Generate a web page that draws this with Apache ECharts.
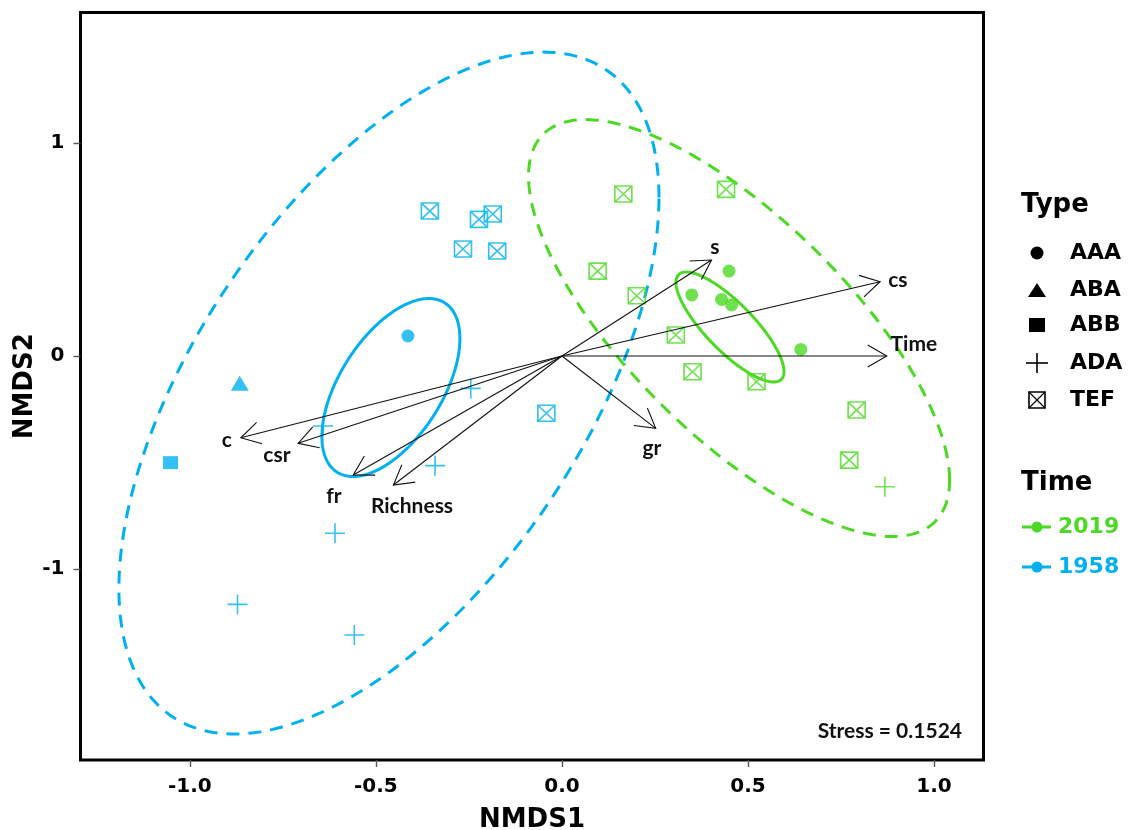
<!DOCTYPE html>
<html>
<head>
<meta charset="utf-8">
<script src="https://cdn.jsdelivr.net/npm/echarts@6/dist/echarts.min.js"></script>
<style>
  html, body { margin: 0; padding: 0; background: #ffffff; }
  #chart { width: 1139px; height: 830px; }
</style>
</head>
<body>
<div id="chart"></div>
<script>
// NMDS site scores, one list per survey year and vegetation type
const aaa2019 = [[0.449, 0.399], [0.349, 0.287], [0.429, 0.266], [0.456, 0.240], [0.642, 0.031]];
const tef2019 = [[0.165, 0.761], [0.441, 0.783], [0.096, 0.399], [0.201, 0.283], [0.306, 0.099],
                 [0.351, -0.074], [0.523, -0.121], [0.792, -0.254], [0.772, -0.489]];
const ada2019 = [[0.868, -0.614]];
const aaa1958 = [[-0.414, 0.094]];
const aba1958 = [[-0.866, -0.128]];
const abb1958 = [[-1.052, -0.501]];
const ada1958 = [[-0.245, -0.152], [-0.642, -0.329], [-0.341, -0.515], [-0.610, -0.833],
                 [-0.872, -1.167], [-0.558, -1.311]];
const tef1958 = [[-0.355, 0.681], [-0.223, 0.642], [-0.186, 0.667], [-0.266, 0.503],
                 [-0.174, 0.493], [-0.042, -0.269]];

// fitted environmental vectors: arrow tips and label anchors (NMDS units)
const vectorNames = ['s', 'cs', 'Time', 'gr', 'c', 'csr', 'fr', 'Richness'];
const vectorTips = [[0.402, 0.451], [0.855, 0.349], [0.873, 0.000], [0.252, -0.340],
                    [-0.863, -0.384], [-0.709, -0.410], [-0.561, -0.559], [-0.453, -0.606]];
const vectorLabelAt = [[0.411, 0.513], [0.903, 0.357], [0.946, 0.056], [0.242, -0.432],
                       [-0.901, -0.395], [-0.766, -0.465], [-0.613, -0.658], [-0.403, -0.705]];

// group ellipses: [centre x, centre y, sxx, sxy, syy]
const spread2019 = [0.476, 0.1315, 0.3202, -0.4041, 0.9595];
const spread1958 = [-0.465, -0.174, 0.5268, 0.6668, 2.5666];
const centroid2019 = [0.4516, 0.1362, 0.02107, -0.03031, 0.06677];
const centroid1958 = [-0.4597, -0.148, 0.0344, 0.04261, 0.17484];

const typeNames = ['AAA', 'ABA', 'ABB', 'ADA', 'TEF'];
const timeNames = ['2019', '1958'];
const xTicks = [-1.0, -0.5, 0.0, 0.5, 1.0];
const yTicks = [-1, 0, 1];
const stressValue = 0.1524;

const GREEN = '#4cd924';
const BLUE = '#00b0f0';
const INK = '#111111';
const SANS_BOLD = 'DejaVu Sans';
const NOTE_FONT = 'Lato';

const PLUS_PATH = 'path://M10,0V20M0,10H20';
const BOXX_PATH = 'path://M0,0H20V20H0ZM0,0L20,20M20,0L0,20';

function siteSeries(name, data, symbol, size, color, outlined) {
  return {
    name: name,
    type: 'scatter',
    data: data,
    symbol: symbol,
    symbolSize: size,
    silent: true,
    z: 3,
    itemStyle: outlined
      ? { color: 'transparent', borderColor: color, borderWidth: 1.6 }
      : { color: color },
  };
}

// outline of an ellipse from centre + shape matrix, projected through the axes
function ellipseSeries(name, params, color, dash, width) {
  return {
    name: name,
    type: 'custom',
    data: [params],
    silent: true,
    z: 2,
    renderItem: function (p, api) {
      const cx = api.value(0), cy = api.value(1);
      const sxx = api.value(2), sxy = api.value(3), syy = api.value(4);
      const l11 = Math.sqrt(sxx);
      const l21 = sxy / l11;
      const l22 = Math.sqrt(syy - l21 * l21);
      const pts = [];
      const n = 240;
      for (let i = 0; i < n; i++) {
        const t = (i / n) * Math.PI * 2;
        const c = Math.cos(t), s = Math.sin(t);
        pts.push(api.coord([cx + l11 * c, cy + l21 * c + l22 * s]));
      }
      return {
        type: 'polygon',
        shape: { points: pts },
        style: { fill: 'none', stroke: color, lineWidth: width, lineDash: dash },
      };
    },
  };
}

const arrowSeries = {
  name: 'vectors',
  type: 'custom',
  data: vectorTips,
  silent: true,
  z: 4,
  renderItem: function (p, api) {
    const o = api.coord([0, 0]);
    const t = api.coord([api.value(0), api.value(1)]);
    const ang = Math.atan2(t[1] - o[1], t[0] - o[0]);
    const len = 22, spread = Math.PI / 6;
    const a1 = [t[0] - len * Math.cos(ang - spread), t[1] - len * Math.sin(ang - spread)];
    const a2 = [t[0] - len * Math.cos(ang + spread), t[1] - len * Math.sin(ang + spread)];
    return {
      type: 'group',
      children: [
        { type: 'line', shape: { x1: o[0], y1: o[1], x2: t[0], y2: t[1] },
          style: { stroke: INK, lineWidth: 1.1 } },
        { type: 'polyline', shape: { points: [a1, t, a2] },
          style: { stroke: INK, lineWidth: 1.1, fill: 'none' } },
      ],
    };
  },
};

const vectorLabelSeries = {
  name: 'vector labels',
  type: 'custom',
  data: vectorLabelAt,
  silent: true,
  z: 5,
  renderItem: function (p, api) {
    const c = api.coord([api.value(0), api.value(1)]);
    return {
      type: 'text',
      x: c[0],
      y: c[1],
      style: {
        text: vectorNames[p.dataIndex],
        font: 'bold 21px ' + NOTE_FONT,
        fill: INK,
        align: 'center',
        verticalAlign: 'middle',
      },
    };
  },
};

// legend built from graphic elements
const LEG_X = 1037, LEG_TEXT_X = 1070;
const typeRows = [253, 290, 325, 363, 400];
const timeRows = [527, 567];
const timeColors = [GREEN, BLUE];

function typeIcon(i, y) {
  const x = LEG_X;
  const st = { fill: '#000' };
  const line = { stroke: '#000', lineWidth: 1.6, fill: 'none' };
  switch (i) {
    case 0: return { type: 'circle', shape: { cx: x, cy: y, r: 6.5 }, style: st };
    case 1: return { type: 'polygon', shape: { points: [[x - 9, y + 7], [x + 9, y + 7], [x, y - 7]] }, style: st };
    case 2: return { type: 'rect', shape: { x: x - 8, y: y - 7, width: 16, height: 14 }, style: st };
    case 3: return { type: 'group', children: [
      { type: 'line', shape: { x1: x - 11, y1: y, x2: x + 11, y2: y }, style: line },
      { type: 'line', shape: { x1: x, y1: y - 10, x2: x, y2: y + 10 }, style: line } ] };
    default: return { type: 'group', children: [
      { type: 'rect', shape: { x: x - 8, y: y - 8, width: 16, height: 16 }, style: line },
      { type: 'line', shape: { x1: x - 8, y1: y - 8, x2: x + 8, y2: y + 8 }, style: { stroke: '#000', lineWidth: 1.1 } },
      { type: 'line', shape: { x1: x + 8, y1: y - 8, x2: x - 8, y2: y + 8 }, style: { stroke: '#000', lineWidth: 1.1 } } ] };
  }
}

const legendGraphics = [
  { type: 'text', x: 1021, y: 205,
    style: { text: 'Type', font: 'bold 26px ' + SANS_BOLD, fill: '#000', verticalAlign: 'middle' } },
  { type: 'text', x: 1021, y: 483,
    style: { text: 'Time', font: 'bold 26px ' + SANS_BOLD, fill: '#000', verticalAlign: 'middle' } },
];
typeNames.forEach(function (name, i) {
  legendGraphics.push(typeIcon(i, typeRows[i]));
  legendGraphics.push({ type: 'text', x: LEG_TEXT_X, y: typeRows[i],
    style: { text: name, font: 'bold 22px ' + SANS_BOLD, fill: '#000', verticalAlign: 'middle' } });
});
timeNames.forEach(function (name, i) {
  const y = timeRows[i], c = timeColors[i];
  legendGraphics.push({ type: 'line', shape: { x1: 1022, y1: y, x2: 1051, y2: y },
    style: { stroke: c, lineWidth: 3 } });
  legendGraphics.push({ type: 'circle', shape: { cx: 1037, cy: y, r: 5.5 }, style: { fill: c } });
  legendGraphics.push({ type: 'text', x: 1058, y: y,
    style: { text: name, font: 'bold 22px ' + SANS_BOLD, fill: c, verticalAlign: 'middle' } });
});
legendGraphics.push({ type: 'text', x: 962, y: 731,
  style: { text: 'Stress = ' + stressValue.toFixed(4), font: 'bold 21px ' + NOTE_FONT,
           fill: INK, align: 'right', verticalAlign: 'middle' } });

const chart = echarts.init(document.getElementById('chart'), null, { renderer: 'canvas' });

chart.setOption({
  backgroundColor: '#ffffff',
  animation: false,
  grid: {
    show: true, left: 80.5, right: 155.5, top: 12.5, bottom: 70,
    outerBoundsMode: 'none', containLabel: false,
    borderColor: '#000', borderWidth: 3, backgroundColor: 'transparent',
  },
  xAxis: {
    type: 'value', min: -1.294, max: 1.133,
    name: 'NMDS1', nameLocation: 'middle', nameGap: 47,
    nameTextStyle: { fontFamily: SANS_BOLD, fontWeight: 'bold', fontSize: 26, color: '#000' },
    axisLine: { show: false, onZero: false },
    splitLine: { show: false },
    axisTick: { show: true, length: 7, customValues: xTicks, lineStyle: { color: '#555', width: 1.4 } },
    axisLabel: { customValues: xTicks, margin: 17, color: '#000',
      fontFamily: SANS_BOLD, fontWeight: 'bold', fontSize: 20,
      formatter: function (v) { return v.toFixed(1); } },
  },
  yAxis: {
    type: 'value', min: -1.898, max: 1.614,
    name: 'NMDS2', nameLocation: 'middle', nameGap: 42, nameRotate: 90,
    nameMoveOverlap: false,
    nameTextStyle: { fontFamily: SANS_BOLD, fontWeight: 'bold', fontSize: 26, color: '#000' },
    axisLine: { show: false, onZero: false },
    splitLine: { show: false },
    axisTick: { show: true, length: 7, customValues: yTicks, lineStyle: { color: '#555', width: 1.4 } },
    axisLabel: { customValues: yTicks, margin: 16, color: '#000',
      fontFamily: SANS_BOLD, fontWeight: 'bold', fontSize: 20,
      formatter: function (v) { return v.toFixed(0); } },
  },
  graphic: legendGraphics,
  series: [
    ellipseSeries('1958 spread', spread1958, BLUE, [13, 9], 3),
    ellipseSeries('2019 spread', spread2019, GREEN, [13, 9], 3),
    ellipseSeries('1958 centroid', centroid1958, BLUE, null, 3),
    ellipseSeries('2019 centroid', centroid2019, GREEN, null, 3),
    siteSeries('AAA 1958', aaa1958, 'circle', 13, BLUE, false),
    siteSeries('ABA 1958', aba1958, 'triangle', [18, 15], BLUE, false),
    siteSeries('ABB 1958', abb1958, 'rect', [15, 13], BLUE, false),
    siteSeries('ADA 1958', ada1958, PLUS_PATH, 20, BLUE, true),
    siteSeries('TEF 1958', tef1958, BOXX_PATH, [17, 16], BLUE, true),
    siteSeries('AAA 2019', aaa2019, 'circle', 13, GREEN, false),
    siteSeries('ADA 2019', ada2019, PLUS_PATH, 20, GREEN, true),
    siteSeries('TEF 2019', tef2019, BOXX_PATH, [17, 16], GREEN, true),
    arrowSeries,
    vectorLabelSeries,
  ],
});
</script>
</body>
</html>
